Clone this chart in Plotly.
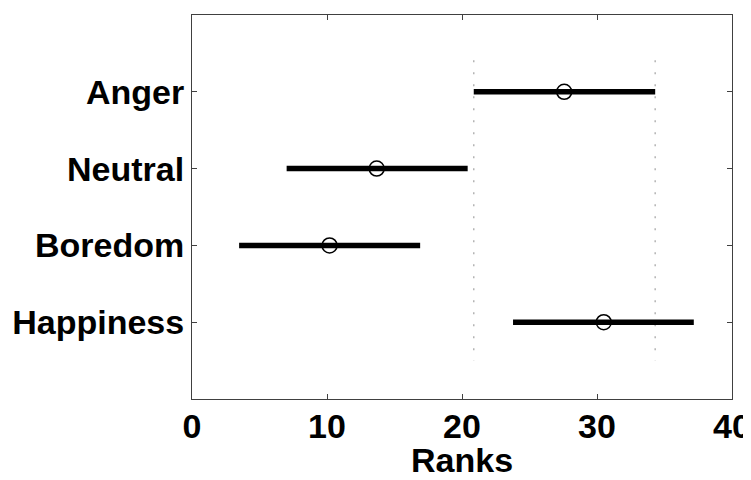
import plotly.graph_objects as go

categories = ["Anger", "Neutral", "Boredom", "Happiness"]
means = [27.57, 13.68, 10.19, 30.5]
lower = [20.87, 7.01, 3.49, 23.78]
upper = [34.31, 20.42, 16.9, 37.17]
x_ticks = [0, 10, 20, 30, 40]
x_title = "Ranks"

positions = list(range(1, len(categories) + 1))

fig = go.Figure()

# reference dotted lines at the first group's interval bounds
for xv in (lower[0], upper[0]):
    fig.add_trace(go.Scatter(
        x=[xv, xv], y=[0.59, 4.5], mode="lines",
        line=dict(color="#b4b4b4", width=1.5, dash="2px,10px"),
        hoverinfo="skip", showlegend=False))

for i, cat in enumerate(categories):
    fig.add_trace(go.Scatter(
        x=[lower[i], upper[i]], y=[positions[i], positions[i]], mode="lines",
        line=dict(color="black", width=5.5), showlegend=False, name=cat))

fig.add_trace(go.Scatter(
    x=means, y=positions, mode="markers",
    marker=dict(symbol="circle-open", size=15, color="black", line=dict(width=1.5)),
    showlegend=False))

font_bold = dict(family="Liberation Sans, Arial, sans-serif", size=34, color="black", weight="bold")

fig.update_layout(
    width=751, height=480,
    margin=dict(l=184, r=27, t=7, b=89, pad=0),
    paper_bgcolor="white", plot_bgcolor="white",
    font=font_bold,
    xaxis=dict(
        range=[0, 40], tickvals=x_ticks, ticktext=[str(v) for v in x_ticks],
        ticks="inside", ticklen=5, tickcolor="#404040", tickwidth=1,
        showline=True, linecolor="#404040", linewidth=1, mirror="ticks",
        showgrid=False, zeroline=False, automargin=False,
        tickfont=font_bold, ticklabelstandoff=-3,
    ),
    yaxis=dict(
        range=[5, 0], tickvals=positions, ticktext=categories,
        ticks="inside", ticklen=5, tickcolor="#404040", tickwidth=1,
        showline=True, linecolor="#404040", linewidth=1, mirror="ticks",
        showgrid=False, zeroline=False, automargin=False,
        tickfont=font_bold,
    ),
    annotations=[dict(
        text=x_title, xref="paper", yref="paper", x=0.5, y=0,
        xanchor="center", yanchor="top", yshift=-41, borderpad=0,
        showarrow=False, font=font_bold)],
)

fig.write_html("out.html")
